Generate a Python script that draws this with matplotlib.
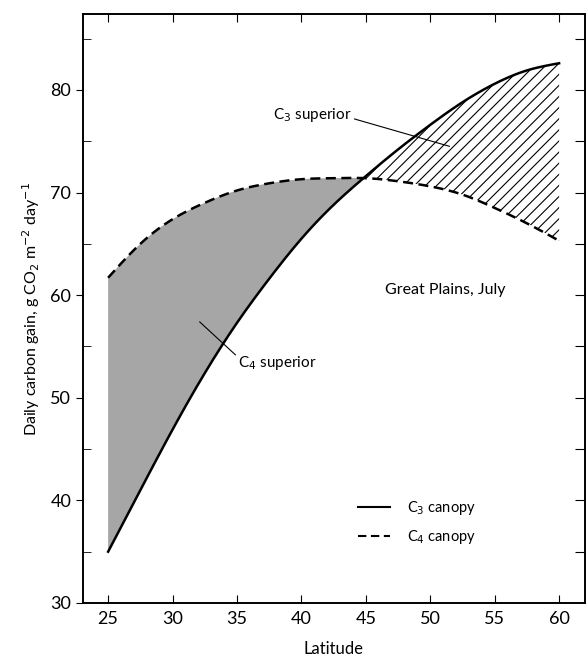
import matplotlib
matplotlib.use("Agg")
import matplotlib.pyplot as plt
import numpy as np

plt.rcParams["font.family"] = ["Lato", "DejaVu Sans"]
plt.rcParams["hatch.linewidth"] = 0.8

# values
latitude = np.array([25, 27.5, 30, 32.5, 35, 37.5, 40, 42.5, 45,
                     47.5, 50, 52.5, 55, 57.5, 60])
c3_canopy = np.array([35.0, 41.0, 46.9, 52.4, 57.3, 61.6, 65.5, 68.8, 71.6,
                      74.2, 76.6, 78.8, 80.6, 81.9, 82.6])
c4_canopy = np.array([61.7, 65.0, 67.4, 69.0, 70.2, 70.9, 71.3, 71.4, 71.4,
                      71.1, 70.6, 69.8, 68.5, 67.0, 65.3])


def spline(x, y, xs):
    """natural cubic spline through the read points"""
    n = len(x)
    h = np.diff(x)
    A = np.zeros((n, n))
    b = np.zeros(n)
    A[0, 0] = A[-1, -1] = 1
    for i in range(1, n - 1):
        A[i, i - 1] = h[i - 1]
        A[i, i] = 2 * (h[i - 1] + h[i])
        A[i, i + 1] = h[i]
        b[i] = 6 * ((y[i + 1] - y[i]) / h[i] - (y[i] - y[i - 1]) / h[i - 1])
    m = np.linalg.solve(A, b)
    j = np.clip(np.searchsorted(x, xs) - 1, 0, n - 2)
    t = xs - x[j]
    hj = h[j]
    c1 = (y[j + 1] - y[j]) / hj - hj * (2 * m[j] + m[j + 1]) / 6
    return y[j] + c1 * t + m[j] / 2 * t**2 + (m[j + 1] - m[j]) / (6 * hj) * t**3


xs = np.linspace(25, 60, 400)
c3_s = spline(latitude, c3_canopy, xs)
c4_s = spline(latitude, c4_canopy, xs)

fig = plt.figure(figsize=(5.87, 6.6), dpi=100)
ax = fig.add_axes([0.1414, 0.0864, 0.855, 0.8924])

ax.fill_between(xs, c3_s, c4_s, where=c4_s >= c3_s, interpolate=True,
                facecolor="#a6a6a6", edgecolor="none", lw=0)
ax.fill_between(xs, c3_s, c4_s, where=c3_s >= c4_s, interpolate=True,
                facecolor="none", edgecolor="black", hatch="///", lw=0)

ax.plot(xs, c3_s, "-", color="black", lw=1.8, label="C$_3$ canopy")
ax.plot(xs, c4_s, "--", color="black", lw=1.8, dashes=(4, 2.2),
        label="C$_4$ canopy")

ax.annotate("C$_3$ superior", xy=(51.5, 74.5), xytext=(37.8, 77.6),
            fontsize=11, va="center",
            arrowprops=dict(arrowstyle="-", lw=0.8, color="black",
                            shrinkA=0, shrinkB=0,
                            relpos=(1.0, 0.3)))
ax.annotate("C$_4$ superior", xy=(32.1, 57.4), xytext=(35.1, 53.4),
            fontsize=11, va="center",
            arrowprops=dict(arrowstyle="-", lw=0.8, color="black",
                            shrinkA=0, shrinkB=0, relpos=(0.0, 0.8)))
ax.text(51.2, 60.5, "Great Plains, July", fontsize=11.5, ha="center",
        va="center")

leg = ax.legend(loc="lower right", bbox_to_anchor=(0.81, 0.075), frameon=False,
                fontsize=10.5, handlelength=2.2, labelspacing=0.75,
                handletextpad=1.2)
for line in leg.get_lines():
    line.set_linewidth(1.5)

ax.set_xlim(23.05, 62.0)
ax.set_ylim(30, 87.4)
ax.set_xticks(np.arange(25, 61, 5))
ax.set_yticks(np.arange(30, 81, 10))
ax.set_yticks(np.arange(35, 86, 10), minor=True)
ax.tick_params(axis="x", direction="in", length=6, labelsize=13, top=True,
               pad=6)
ax.tick_params(axis="y", which="major", direction="out", length=5,
               labelsize=13)
ax.tick_params(axis="y", which="minor", direction="in", length=6)

# right spine ticks every 5 units
ax_r = ax.twinx()
ax_r.set_ylim(ax.get_ylim())
ax_r.set_yticks(np.arange(35, 86, 5))
ax_r.tick_params(axis="y", direction="in", length=7, labelright=False)

for a in (ax, ax_r):
    for s in a.spines.values():
        s.set_linewidth(1.2)

ax.set_xlabel("Latitude", fontsize=12, labelpad=10)
ax.set_ylabel("Daily carbon gain, g CO$_2$ m$^{-2}$ day$^{-1}$", fontsize=11.5,
              labelpad=6)

fig.savefig("out.png", dpi=100)
